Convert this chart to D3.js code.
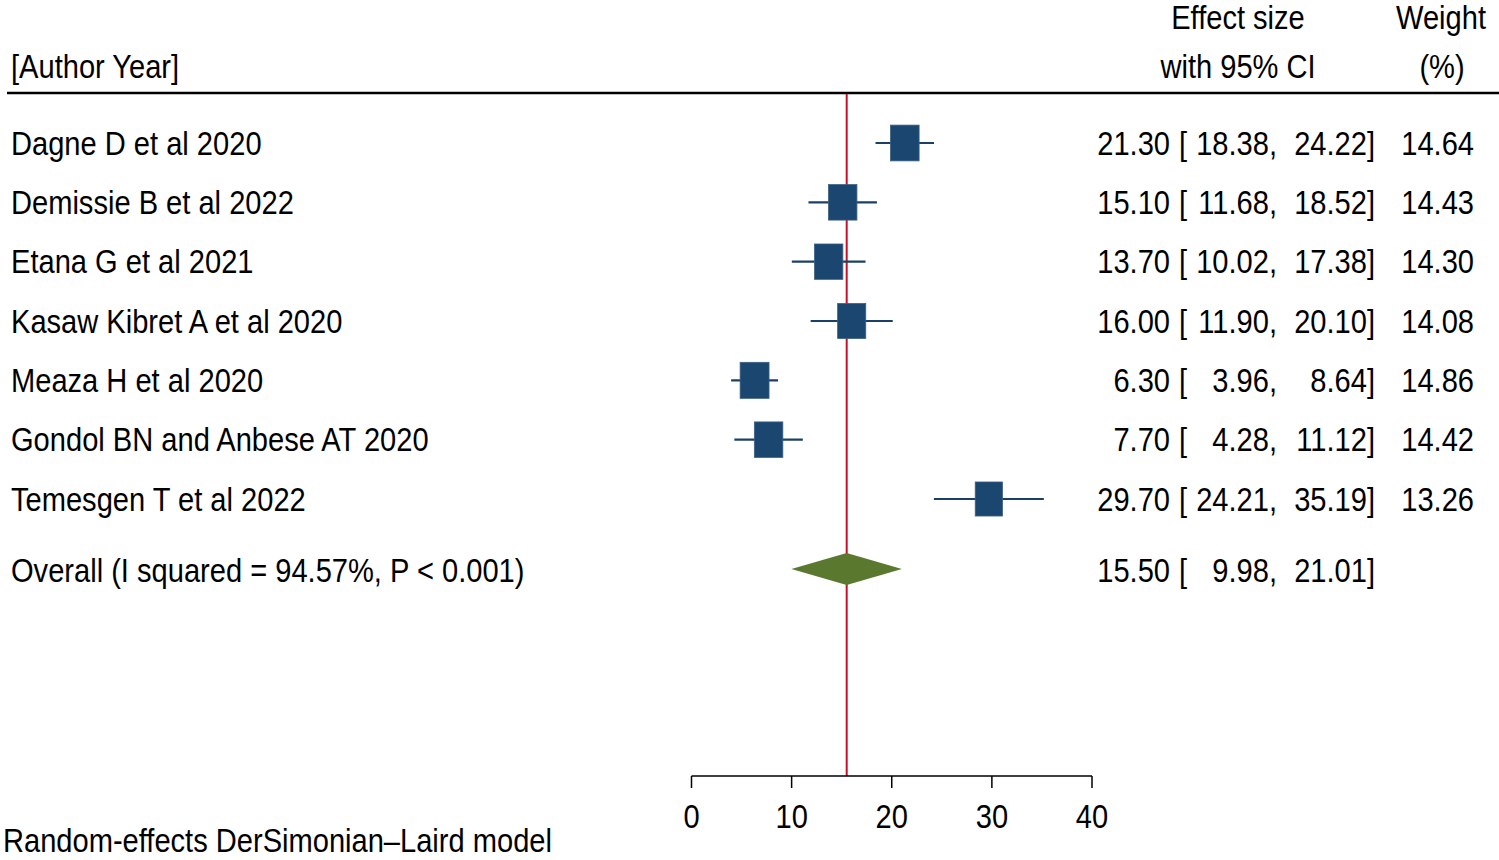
<!DOCTYPE html>
<html>
<head>
<meta charset="utf-8">
<script src="https://cdn.jsdelivr.net/npm/d3@7"></script>
<style>
  body { margin: 0; background: #fff; }
  text { font-family: "Liberation Sans", Arial, sans-serif; fill: #000; }
</style>
</head>
<body>
<svg id="chart" width="1499" height="860"></svg>
<script>
// study rows
var studies = ["Dagne D et al 2020", "Demissie B et al 2022", "Etana G et al 2021",
  "Kasaw Kibret A et al 2020", "Meaza H et al 2020", "Gondol BN and Anbese AT 2020",
  "Temesgen T et al 2022"];
var effect = [21.30, 15.10, 13.70, 16.00, 6.30, 7.70, 29.70];
var lower = [18.38, 11.68, 10.02, 11.90, 3.96, 4.28, 24.21];
var upper = [24.22, 18.52, 17.38, 20.10, 8.64, 11.12, 35.19];
var weight = [14.64, 14.43, 14.30, 14.08, 14.86, 14.42, 13.26];

var overallLabel = "Overall (I squared = 94.57%, P < 0.001)";
var overall = {es: 15.50, lo: 9.98, hi: 21.01};
var xTicks = [0, 10, 20, 30, 40];

var svg = d3.select("#chart");
var fs = 32.5, squeeze = 0.895;

// text is a bit condensed in the original, so squeeze it horizontally
function label(x, y, str, anchor) {
  svg.append("text")
    .attr("transform", "translate(" + x + "," + y + ") scale(" + squeeze + ",1)")
    .attr("text-anchor", anchor || "start")
    .style("font-size", fs + "px")
    .text(str);
}

var x = d3.scaleLinear().domain([0, 40]).range([691.5, 1092]);
var y = d3.scalePoint().domain(d3.range(studies.length)).range([143, 499]);
var yOverall = 569;
var yAxis = 776;
var base = 11.5; // baseline offset from row centre

// headers
label(11, 78, "[Author Year]");
label(1238, 29, "Effect size", "middle");
label(1238, 78, "with 95% CI", "middle");
label(1441, 29, "Weight", "middle");
label(1442, 78, "(%)", "middle");

svg.append("line")
  .attr("x1", 7).attr("x2", 1499)
  .attr("y1", 93).attr("y2", 93)
  .attr("stroke", "#000").attr("stroke-width", 2.5);

// reference line at the pooled estimate
svg.append("line")
  .attr("x1", x(overall.es)).attr("x2", x(overall.es))
  .attr("y1", 94).attr("y2", yAxis)
  .attr("stroke", "#c8102e").attr("stroke-width", 2);

// CI lines
var rows = d3.range(studies.length);
svg.selectAll(".ci").data(rows).enter().append("line")
  .attr("x1", function(i) { return x(lower[i]); })
  .attr("x2", function(i) { return x(upper[i]); })
  .attr("y1", function(i) { return y(i); })
  .attr("y2", function(i) { return y(i); })
  .attr("stroke", "#1b4068").attr("stroke-width", 2.2);

// weight boxes
svg.selectAll(".box").data(rows).enter().append("rect")
  .attr("x", function(i) { return x(effect[i]) - 7.5 * Math.sqrt(weight[i]) / 2; })
  .attr("y", function(i) { return y(i) - 9.35 * Math.sqrt(weight[i]) / 2; })
  .attr("width", function(i) { return 7.5 * Math.sqrt(weight[i]); })
  .attr("height", function(i) { return 9.35 * Math.sqrt(weight[i]); })
  .attr("fill", "#1a4670")
  .attr("stroke", "#3d6184").attr("stroke-width", 0.8);

// pooled diamond
svg.append("path")
  .attr("d", "M" + x(overall.lo) + "," + yOverall +
    "L" + x(overall.es) + "," + (yOverall - 16) +
    "L" + x(overall.hi) + "," + yOverall +
    "L" + x(overall.es) + "," + (yOverall + 16) + "Z")
  .attr("fill", "#5a782e");

// row text
function f2(v) { return v.toFixed(2); }
rows.forEach(function(i) {
  var yy = y(i) + base;
  label(11, yy, studies[i]);
  label(1170, yy, f2(effect[i]), "end");
  label(1179, yy, "[");
  label(1277, yy, f2(lower[i]) + ",", "end");
  label(1375, yy, f2(upper[i]) + "]", "end");
  label(1474, yy, f2(weight[i]), "end");
});

var yo = yOverall + base + 1;
label(11, yo, overallLabel);
label(1170, yo, f2(overall.es), "end");
label(1179, yo, "[");
label(1277, yo, f2(overall.lo) + ",", "end");
label(1375, yo, f2(overall.hi) + "]", "end");

// x axis
svg.append("line")
  .attr("x1", x(0)).attr("x2", x(40))
  .attr("y1", yAxis).attr("y2", yAxis)
  .attr("stroke", "#000").attr("stroke-width", 1.5);
svg.selectAll(".tick").data(xTicks).enter().append("line")
  .attr("x1", function(d) { return x(d); })
  .attr("x2", function(d) { return x(d); })
  .attr("y1", yAxis).attr("y2", yAxis + 12)
  .attr("stroke", "#000").attr("stroke-width", 1.5);
xTicks.forEach(function(d) { label(x(d), 828, d, "middle"); });

label(3, 852, "Random-effects DerSimonian\u2013Laird model");
</script>
</body>
</html>
